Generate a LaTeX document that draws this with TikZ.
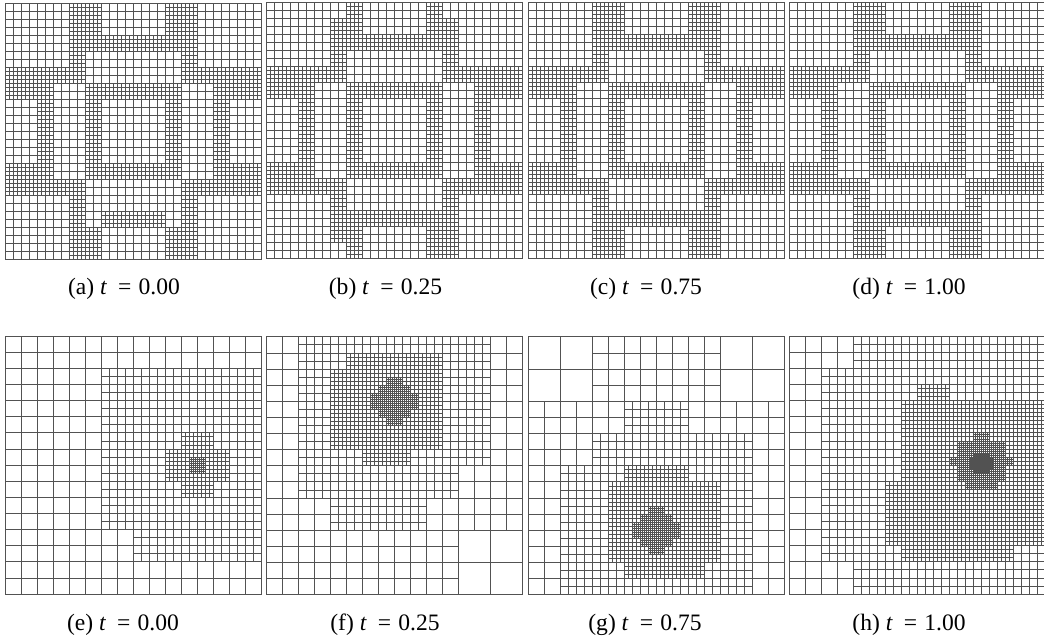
\documentclass[tikz,border=0pt]{standalone}
\usepackage{fontspec}
\setmainfont{Liberation Serif}
\usepackage{xcolor}

\tikzset{
    meshline/.style={line width=0.3pt,black!68},
    panel/.style={x=0.16cm,y=0.16cm,yscale=-1},
    panellow/.style={x=0.16cm,y=0.1612cm,yscale=-1},
    caption/.style={font=\fontsize{13.4pt}{15pt}\selectfont,inner sep=0pt,anchor=base}
}

% one refinement level: step, then list of x0/y0/x1/y1 patches
\newcommand{\meshlevel}[2]{
    \edef\patchlist{#2}
    \foreach \xa/\ya/\xb/\yb in \patchlist {
        \draw[meshline,step=#1] (\xa,\ya) grid (\xb,\yb);
        \draw[meshline] (\xa,\ya) rectangle (\xb,\yb);
    }
}

% caption text with the wide spacing round the t
\newcommand{\captext}[2]{(#1) \textit{t}\hspace{0.22em} = \hspace{0.06em}#2}

% fine patches shared by (c) and (d)
\newcommand{\patchescd}{8/0/12/4,20/0/24/4,8/4/24/6,8/6/10/10,22/6/24/10,0/8/10/10,22/8/32/10,
    0/10/6/12,26/10/32/12,10/10/22/12,4/12/6/20,10/12/12/20,20/12/22/20,26/12/28/20,
    0/20/6/22,10/20/22/22,26/20/32/22,0/22/10/24,22/22/32/24,8/24/10/26,22/24/24/26,
    8/26/24/28,8/28/12/32,20/28/24/32}

\begin{document}
\begin{tikzpicture}
    \useasboundingbox (0,0) rectangle (20.88,-12.78);

    % (a)
    \begin{scope}[shift={(0.107,-0.066)},panel]
        \meshlevel{1}{0/0/32/32}
        \meshlevel{0.5}{8/0/12/4,20/0/24/4,8/4/24/6,8/6/10/10,22/6/24/10,0/8/10/10,22/8/32/10,
            0/10/6/12,26/10/32/12,10/10/22/12,4/12/6/20,10/12/12/20,20/12/22/20,26/12/28/20,
            0/20/6/22,10/20/22/22,26/20/32/22,0/22/10/24,22/22/32/24,8/24/10/28,22/24/24/28,
            12/26/20/28,8/28/12/32,20/28/24/32}
    \end{scope}

    % (b)
    \begin{scope}[shift={(5.327,-0.05)},panel]
        \meshlevel{1}{0/0/32/32}
        \meshlevel{0.5}{10/0/12/2,20/0/22/2,8/2/12/4,20/2/24/4,8/4/24/6,8/6/10/10,22/6/24/10,0/8/10/10,22/8/32/10,
            0/10/6/12,26/10/32/12,10/10/22/12,4/12/6/20,10/12/12/20,20/12/22/20,26/12/28/20,
            0/20/6/22,10/20/22/22,26/20/32/22,0/22/10/24,22/22/32/24,8/24/10/26,22/24/24/26,
            8/26/24/28,8/28/12/30,10/30/12/32,20/28/24/32}
    \end{scope}

    % (c)
    \begin{scope}[shift={(10.567,-0.053)},panel]
        \meshlevel{1}{0/0/32/32}
        \meshlevel{0.5}{\patchescd}
    \end{scope}

    % (d)
    \begin{scope}[shift={(15.787,-0.053)},panel]
        \meshlevel{1}{0/0/32/32}
        \meshlevel{0.5}{\patchescd}
    \end{scope}

    % (e)
    \begin{scope}[shift={(0.107,-6.72)},panellow]
        \meshlevel{2}{0/0/32/32}
        \meshlevel{1}{12/4/32/24,16/24/32/28}
        \meshlevel{0.5}{22/12/26/20,20/14/28/18}
        \meshlevel{0.25}{23/15/25/17}
    \end{scope}

    % (f)
    \begin{scope}[shift={(5.327,-6.733)},panellow]
        \meshlevel{4}{24/24/32/32}
        \meshlevel{2}{0/0/32/24,0/24/24/32}
        \meshlevel{1}{4/0/28/16,4/16/24/20,8/20/20/24}
        \meshlevel{0.5}{10/2/22/4,8/4/22/14,12/14/18/16}
        \meshlevel{0.25}{15/5/17/6,14/6/18/7,13/7/19/9,14/9/18/10,15/10/17/11}
    \end{scope}

    % (g)
    \begin{scope}[shift={(10.567,-6.733)},panellow]
        \meshlevel{4}{0/0/8/8,24/0/32/8}
        \meshlevel{2}{8/0/24/8,0/8/32/32}
        \meshlevel{1}{12/8/20/12,8/12/28/16,4/16/28/32}
        \meshlevel{0.5}{12/16/20/18,10/18/24/28,12/28/22/30}
        \meshlevel{0.25}{15/21/17/22,14/22/18/23,13/23/19/25,14/25/18/26,15/26/17/27}
    \end{scope}

    % (h)
    \begin{scope}[shift={(15.787,-6.72)},panellow]
        \meshlevel{2}{0/0/32/32}
        \meshlevel{1}{8/0/32/4,4/4/32/28,8/28/32/32}
        \meshlevel{0.5}{16/6/20/8,14/8/32/18,12/18/32/26,14/26/28/28}
        \meshlevel{0.25}{23/12/25/13,21/13/27/18,22/18/26/19,20/15/21/16,27/15/28/16}
        \meshlevel{0.125}{23/14.5/25/17,22.5/15/25.5/16.5}
    \end{scope}

    % Captions
    \node[caption] (capa) at (2.48,-5.88) {\captext{a}{0.00}};
    \node[caption] (capb) at (7.71,-5.88) {\captext{b}{0.25}};
    \node[caption] (capc) at (12.92,-5.88) {\captext{c}{0.75}};
    \node[caption] (capd) at (18.18,-5.88) {\captext{d}{1.00}};
    \node[caption] (cape) at (2.46,-12.60) {\captext{e}{0.00}};
    \node[caption] (capf) at (7.70,-12.60) {\captext{f}{0.25}};
    \node[caption] (capg) at (12.90,-12.60) {\captext{g}{0.75}};
    \node[caption] (caph) at (18.18,-12.60) {\captext{h}{1.00}};
\end{tikzpicture}
\end{document}
